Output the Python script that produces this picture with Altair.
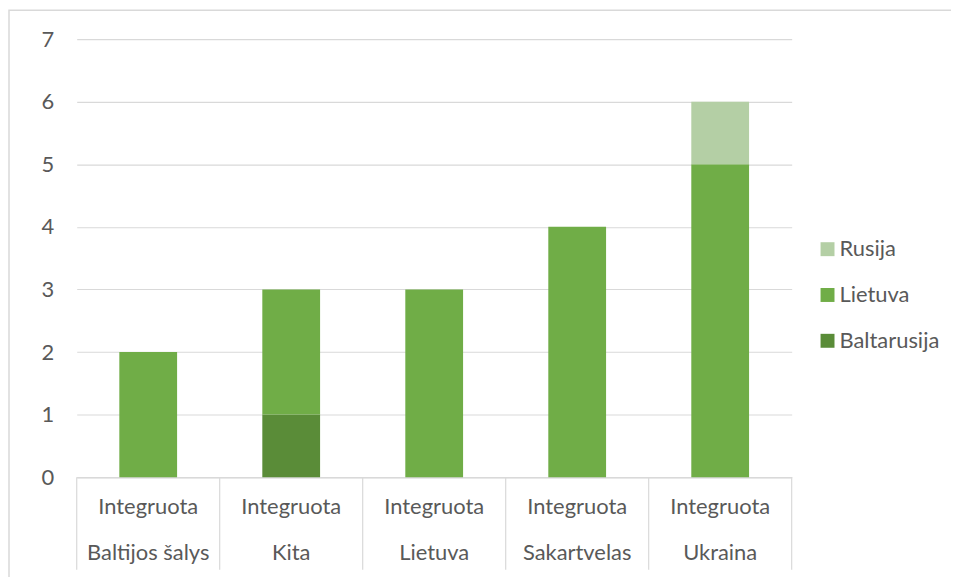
import altair as alt
import pandas as pd

groups = ["Integruota", "Integruota", "Integruota", "Integruota", "Integruota"]
categories = ["Baltijos šalys", "Kita", "Lietuva", "Sakartvelas", "Ukraina"]
baltarusija = [0, 1, 0, 0, 0]
lietuva = [2, 2, 3, 4, 5]
rusija = [0, 0, 0, 0, 1]
series_names = ["Rusija", "Lietuva", "Baltarusija"]
series_colors = ["#B4CFA5", "#70AD47", "#5A8C38"]
y_ticks = [0, 1, 2, 3, 4, 5, 6, 7]

rows = []
for i, c in enumerate(categories):
    for name, vals, o in [("Baltarusija", baltarusija, 0), ("Lietuva", lietuva, 1), ("Rusija", rusija, 2)]:
        if vals[i] > 0:
            rows.append({"label": groups[i] + "|" + c, "series": name, "value": vals[i], "order": o})
df = pd.DataFrame(rows)
labels = [g + "|" + c for g, c in zip(groups, categories)]
sep_df = pd.DataFrame({"sep": labels})

W, H = 718, 440
FONT = "Lato"
FS = 22
TXT = "#595959"
GRID = "#D9D9D9"

xscale = alt.Scale(domain=labels, paddingInner=0.596, paddingOuter=0.298)

bars = alt.Chart(df).mark_bar().encode(
    x=alt.X("label:N", scale=xscale, sort=labels, title=None,
            axis=alt.Axis(labelExpr="split(datum.label, '|')", labelAngle=0,
                          labelFontSize=FS, labelColor=TXT, labelFont=FONT,
                          labelLineHeight=47, labelPadding=19, ticks=False,
                          domain=True, domainColor=GRID, domainWidth=1.5)),
    y=alt.Y("value:Q", stack="zero", scale=alt.Scale(domain=[0, 7]), title=None,
            axis=alt.Axis(values=y_ticks, domain=False, ticks=False, labelFontSize=FS,
                          labelColor=TXT, labelFont=FONT, labelPadding=23,
                          gridColor=GRID, gridWidth=1.2)),
    color=alt.Color("series:N", scale=alt.Scale(domain=series_names, range=series_colors),
                    legend=alt.Legend(title=None, orient="none", legendX=743, legendY=200,
                                      symbolType="square", symbolSize=196, symbolStrokeWidth=0,
                                      labelFontSize=FS, labelColor=TXT, labelFont=FONT,
                                      rowPadding=24, symbolOffset=0, labelOffset=1)),
    order=alt.Order("order:Q"),
)

seps = alt.Chart(sep_df).mark_rule(color=GRID, strokeWidth=1.2).encode(
    x=alt.X("sep:N", scale=alt.Scale(domain=labels, paddingInner=0, paddingOuter=0),
            sort=labels, bandPosition=0, axis=None),
    y=alt.value(H), y2=alt.value(H + 93),
)
sep_end = alt.Chart(sep_df.head(1)).mark_rule(color=GRID, strokeWidth=1.2).encode(
    x=alt.value(W), y=alt.value(H), y2=alt.value(H + 93),
)
border = alt.Chart(sep_df.head(1)).mark_rect(fill=None, stroke=GRID, strokeWidth=1.5).encode(
    x=alt.value(-68), x2=alt.value(W + 200), y=alt.value(-29), y2=alt.value(H + 140),
)

chart = alt.layer(border, bars, seps, sep_end).resolve_scale(x="independent").properties(
    width=W, height=H,
    autosize=alt.AutoSizeParams(type="none"),
    padding={"left": 69, "top": 30, "right": 160, "bottom": 99},
).configure(font=FONT).configure_view(stroke=None)

chart.save("out.html", embed_options={"renderer": "svg", "actions": False})
